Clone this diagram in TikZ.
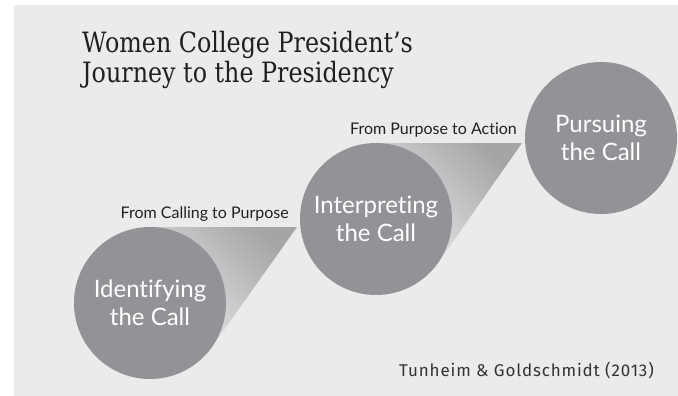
\documentclass[tikz,border=0pt]{standalone}
\usepackage{fontspec}
\setmainfont{Lato}[Ligatures=NoCommon]
\newfontfamily\titlefont[FakeStretch=0.85]{DejaVu Serif}
\newfontfamily\citefont[LetterSpace=5]{Fira Sans}
\usetikzlibrary{calc,backgrounds}
\definecolor{bg}{HTML}{EBEBEB}
\definecolor{circ}{HTML}{929396}
\definecolor{funD}{HTML}{A4A5A7}
\definecolor{funL}{HTML}{EAEAEB}
\definecolor{ink}{HTML}{231F20}
\definecolor{citeink}{HTML}{333333}
\begin{document}
\begin{tikzpicture}[x=1pt,y=-1pt,
  stage/.style={circle,fill=circ,minimum size=152pt,inner sep=0pt,outer sep=0pt,
    text=white,align=center,font=\fontsize{24}{28.5}\selectfont},
  lbl/.style={text=ink,font=\fontsize{16}{19}\selectfont,inner sep=0pt,anchor=base east},
  ttl/.style={text=ink,font=\titlefont\fontsize{28}{30}\selectfont,inner sep=0pt,anchor=base west},
  funnel/.style={top color=funD,bottom color=funL,shading angle=-45}]
\useasboundingbox (0,0) rectangle (678,396);
% stages
\node[stage] (c1) at (150,303) {Identifying\\the Call};
\node[stage] (c2) at (376,219) {Interpreting\\the Call};
\node[stage] (c3) at (601,138) {Pursuing\\the Call};
% funnel tips
\coordinate (t1) at (297,227);
\coordinate (t2) at (522,143);
\begin{pgfonlayer}{background}
  \fill[bg] (14,5) rectangle (678,396);
  \path[funnel] (c1.north) -- (t1) -- (tangent cs:node=c1,point={(t1)},solution=2) -- (c1.center) -- cycle;
  \path[funnel] (c2.north) -- (t2) -- (tangent cs:node=c2,point={(t2)},solution=2) -- (c2.center) -- cycle;
\end{pgfonlayer}
% labels
\node[lbl] (l1) at (289,218) {From Calling to Purpose};
\node[lbl] (l2) at (517,134) {From Purpose to Action};
% title
\node[ttl] (ttl1) at (82,53) {Women College President’s};
\node[ttl] (ttl2) at (82,83) {Journey to the Presidency};
% citation
\node[text=citeink,font=\citefont\fontsize{17}{20}\selectfont,inner sep=0pt,anchor=base east] (cite) at (654,376) {Tunheim \& Goldschmidt (2013)};
\end{tikzpicture}
\end{document}
